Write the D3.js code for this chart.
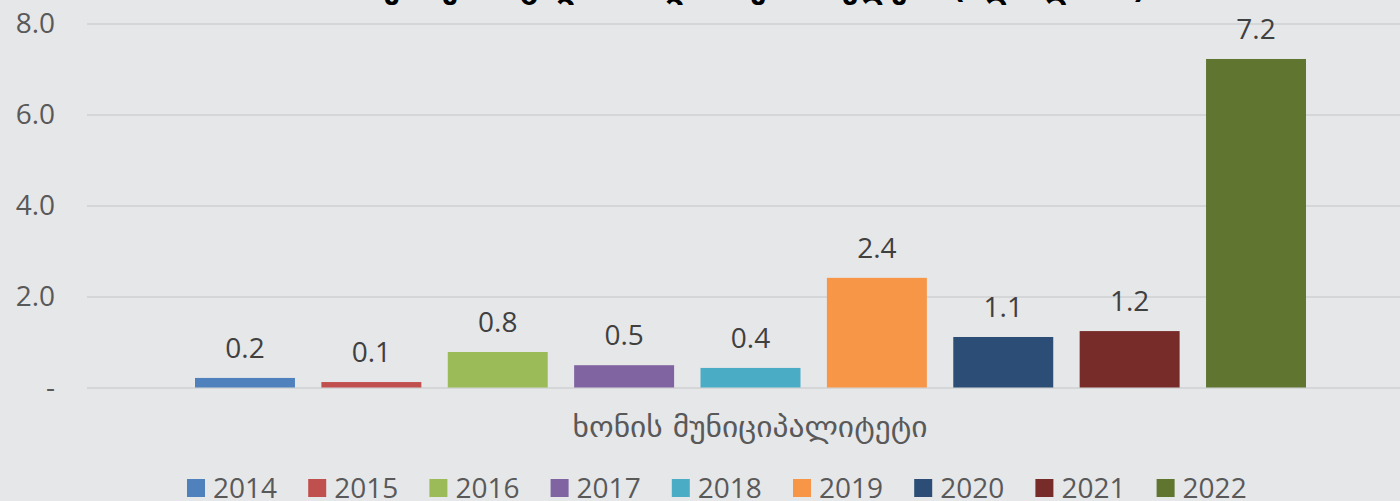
<!DOCTYPE html>
<html>
<head>
<meta charset="utf-8">
<script src="https://cdn.jsdelivr.net/npm/d3@7"></script>
<style>
  body { margin: 0; background: #e6e7e9; }
  svg { display: block; font-family: "Open Sans", "DejaVu Sans", sans-serif; }
</style>
</head>
<body>
<script>
const category = "ხონის მუნიციპალიტეტი";
const years = ["2014", "2015", "2016", "2017", "2018", "2019", "2020", "2021", "2022"];
const values = [0.21, 0.12, 0.78, 0.49, 0.43, 2.41, 1.11, 1.24, 7.22];
const colors = ["#4f81bd", "#c0504d", "#9bbb59", "#8064a2", "#4bacc6", "#f79646", "#2c4d75", "#772c2a", "#5f7530"];
const yTicks = [0, 2, 4, 6, 8];
const title = "ქონების გადასახადის შემოსავლები (მლნ ლარი)";

const totalWidth = 1400;
const totalHeight = 501;

const svg = d3.select("body")
  .append("svg")
  .attr("width", totalWidth)
  .attr("height", totalHeight);

svg.append("rect")
  .attr("width", totalWidth)
  .attr("height", totalHeight)
  .attr("fill", "#e6e7e9");

const yScale = d3.scaleLinear()
  .domain([0, 8])
  .range([387.5, 23.5]);

const xScale = d3.scaleBand()
  .domain(years)
  .range([195, 1306])
  .paddingInner(0.209)
  .paddingOuter(0);

// gridlines + tick labels
const yAxis = svg.append("g")
  .attr("transform", "translate(87, 0)")
  .call(d3.axisLeft(yScale)
    .tickValues(yTicks)
    .tickSize(-1330)
    .tickPadding(32)
    .tickFormat(d => d === 0 ? "-" : d3.format(".1f")(d)));

yAxis.select(".domain").remove();
yAxis.selectAll(".tick line")
  .attr("stroke", "#d5d6d8")
  .attr("stroke-width", 2);
yAxis.selectAll(".tick text")
  .attr("fill", "#595959")
  .style("font-size", "28px")
  .style("font-family", "'Open Sans', sans-serif");

// bars
svg.selectAll("rect.bar")
  .data(years)
  .enter()
  .append("rect")
  .attr("class", "bar")
  .attr("x", d => xScale(d))
  .attr("y", (d, i) => yScale(values[i]))
  .attr("width", xScale.bandwidth())
  .attr("height", (d, i) => yScale(0) - yScale(values[i]))
  .attr("fill", (d, i) => colors[i]);

// value labels
svg.selectAll("text.label")
  .data(years)
  .enter()
  .append("text")
  .attr("class", "label")
  .attr("x", d => xScale(d) + xScale.bandwidth() / 2)
  .attr("y", (d, i) => yScale(values[i]) - 20)
  .attr("text-anchor", "middle")
  .attr("fill", "#404040")
  .style("font-size", "28px")
  .text((d, i) => d3.format(".1f")(values[i]));

// category label
svg.append("text")
  .attr("x", 750)
  .attr("y", 437)
  .attr("text-anchor", "middle")
  .attr("fill", "#595959")
  .attr("textLength", 355)
  .attr("lengthAdjust", "spacingAndGlyphs")
  .style("font-size", "29px")
  .style("font-family", "'DejaVu Sans', sans-serif")
  .text(category);

// title (cut off at top)
svg.append("text")
  .attr("x", 765)
  .attr("y", -2)
  .attr("text-anchor", "middle")
  .attr("fill", "#000")
  .style("font-size", "30px")
  .style("font-weight", "bold")
  .style("font-family", "'DejaVu Sans', sans-serif")
  .text(title);

// legend
const legendX = d3.scaleBand()
  .domain(years)
  .range([187, 187 + 121.2 * years.length])
  .padding(0);

const legend = svg.selectAll("g.legend")
  .data(years)
  .enter()
  .append("g")
  .attr("class", "legend")
  .attr("transform", d => `translate(${legendX(d)}, 0)`);

legend.append("rect")
  .attr("x", 0)
  .attr("y", 479)
  .attr("width", 18)
  .attr("height", 18)
  .attr("fill", (d, i) => colors[i]);

legend.append("text")
  .attr("x", 26)
  .attr("y", 498)
  .attr("fill", "#595959")
  .style("font-size", "28px")
  .text(d => d);
</script>
</body>
</html>
